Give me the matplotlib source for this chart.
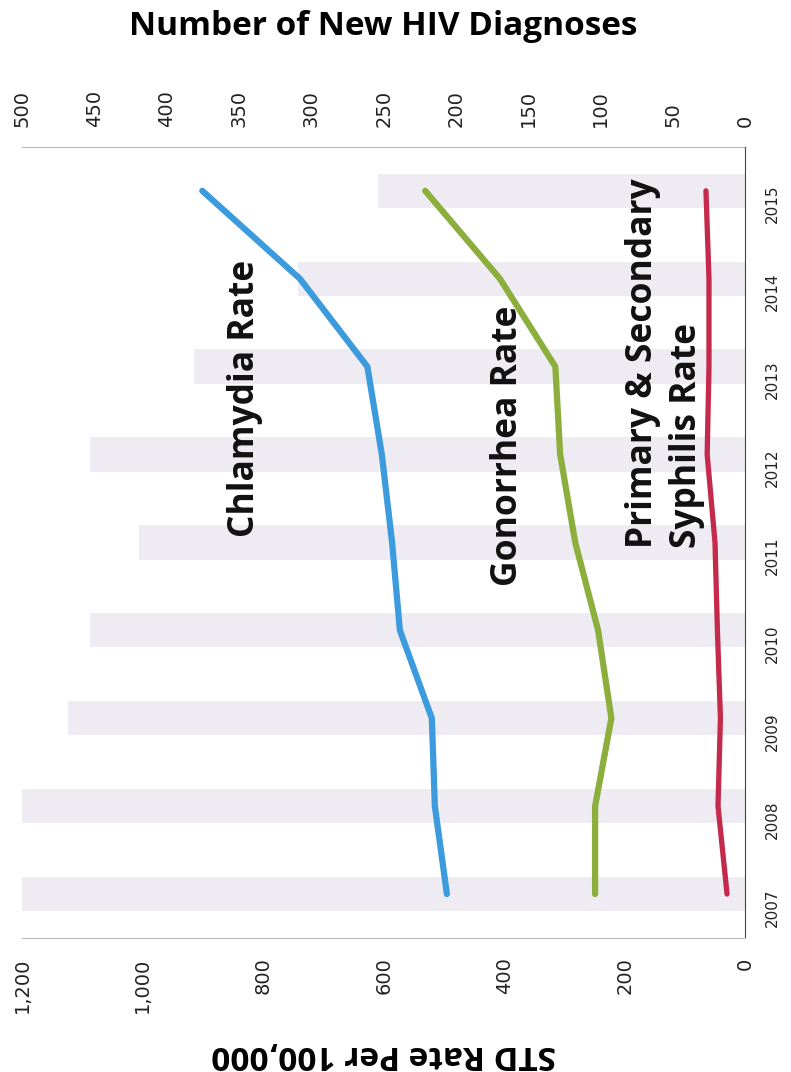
import matplotlib.pyplot as plt
import numpy as np

# STD rates (per 100,000) and new HIV diagnoses by year
years = [2007, 2008, 2009, 2010, 2011, 2012, 2013, 2014, 2015]
hiv_diagnoses = [500, 500, 468, 453, 419, 453, 381, 309, 254]
chlamydia_rate = [495, 515, 520, 573, 586, 603, 627, 739, 901]
gonorrhea_rate = [249, 249, 222, 244, 282, 307, 315, 407, 531]
syphilis_rate = [30, 45, 41, 46, 50, 63, 60, 60, 65]

rate_ticks = np.arange(0, 1201, 200)
hiv_ticks = np.arange(0, 501, 50)

fig = plt.figure(figsize=(7.91, 10.72), dpi=100)
ax = fig.add_axes([0.028, 0.125, 0.914, 0.738])
ax2 = ax.twiny()

# chart is laid out sideways: values run right-to-left, years bottom-to-top
ax2.barh(years, hiv_diagnoses, height=0.39, color='#EEECF2', zorder=1)
ax2.set_xlim(500, 0)
ax2.set_xticks(hiv_ticks)
ax2.tick_params(axis='x', length=0, pad=14, labelrotation=90, labelsize=14,
                colors='#222222')
ax2.set_xlabel('Number of New HIV Diagnoses', fontsize=24, fontweight='bold',
               family='Open Sans', labelpad=40)

ax.set_zorder(ax2.get_zorder() + 1)
ax.patch.set_visible(False)

ax.plot(chlamydia_rate, years, color='#3C9BDC', lw=4.5, solid_capstyle='round')
ax.plot(gonorrhea_rate, years, color='#8CAE3C', lw=4.5, solid_capstyle='round')
ax.plot(syphilis_rate, years, color='#C42A4C', lw=3.8, solid_capstyle='round')

ax.set_xlim(1200, 0)
ax.set_ylim(2006.5, 2015.5)
ax.set_xticks(rate_ticks)
ax.set_xticklabels(['{:,}'.format(t) for t in rate_ticks])
ax.set_yticks(years)
ax.yaxis.tick_right()
ax.tick_params(axis='x', length=0, pad=14, labelrotation=90, labelsize=14,
               colors='#222222')
ax.tick_params(axis='y', length=0, pad=14, labelrotation=90, labelsize=11,
               colors='#222222')
ax.set_xlabel('STD Rate Per 100,000', fontsize=24, fontweight='bold',
              family='Open Sans', rotation=180, labelpad=18)

for s in ['left', 'top']:
    ax.spines[s].set_visible(False)
ax.spines['bottom'].set_color('#BBBBBB')
ax.spines['right'].set_color('#444444')
for s in ['left', 'right', 'bottom']:
    ax2.spines[s].set_visible(False)
ax2.spines['top'].set_color('#BBBBBB')

# series labels written along the lines
label_style = dict(rotation=90, fontsize=25.5, fontweight='bold', family='Open Sans',
                   ha='center', va='bottom', color='#111111')
ax.text(830, 2011.06, 'Chlamydia Rate', **label_style)
ax.text(393, 2010.5, 'Gonorrhea Rate', **label_style)
ax.text(133, 2010.94, 'Primary & Secondary\nSyphilis Rate', multialignment='left',
        linespacing=1.3, **label_style)

fig.savefig('out.png', dpi=100)
